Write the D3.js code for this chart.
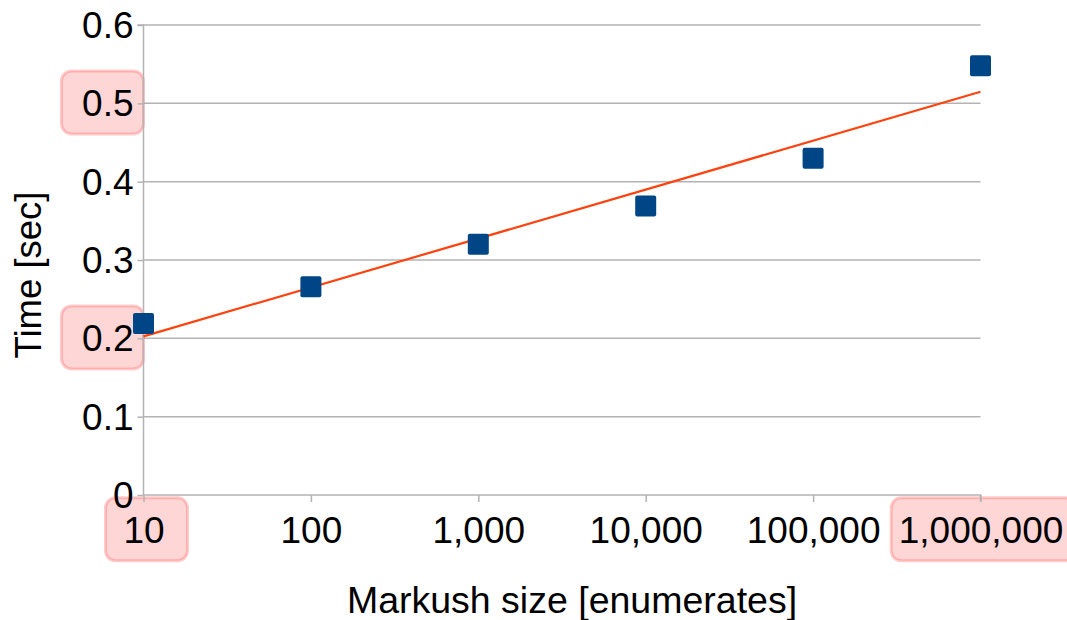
<!DOCTYPE html>
<html lang="en">
<head>
  <meta charset="UTF-8">
  <title>Markush size vs Time</title>
  <script src="https://d3js.org/d3.v7.min.js"></script>
<style>
  body, html {
    margin: 0;
    padding: 0;
    background: #fff;
    font-family: 'Liberation Sans', Arial, sans-serif;
  }
  svg { display: block; }
  .grid line { stroke: #b3b3b3; stroke-width: 1.5; }
  .axis path, .axis line { stroke: #b3b3b3; stroke-width: 1.5; }
  .axis text { font-size: 37px; fill: #000; font-family: 'Liberation Sans', Arial, sans-serif; }
  .title { font-size: 37.5px; fill: #000; }
  .hl { fill: rgba(255, 0, 0, 0.16); stroke: rgba(255, 50, 50, 0.25); stroke-width: 3; }
</style>
</head>
<body>
  <svg width="1067" height="620"></svg>

  <script>
    // data
    const sizes = [10, 100, 1000, 10000, 100000, 1000000];
    const times = [0.219, 0.266, 0.320, 0.369, 0.430, 0.548];
    const yTicks = [0, 0.1, 0.2, 0.3, 0.4, 0.5, 0.6];
    const xTickLabels = ["10", "100", "1,000", "10,000", "100,000", "1,000,000"];
    // tick labels that carry a pink highlight
    const highlightY = [0.5, 0.2];
    const highlightX = [10, 1000000];

    const margin = {top: 25, right: 86.5, bottom: 125, left: 143.5},
          width  = 1067 - margin.left - margin.right,
          height = 620 - margin.top - margin.bottom;

    const svg = d3.select("svg");
    const g = svg.append("g")
                 .attr("transform", `translate(${margin.left},${margin.top})`);

    const x = d3.scaleLog().domain([10, 1000000]).range([0, width]);
    const y = d3.scaleLinear().domain([0, 0.6]).range([height, 0]);

    // horizontal grid
    g.append("g")
     .attr("class", "grid")
     .selectAll("line")
     .data(yTicks.filter(d => d > 0))
     .enter().append("line")
       .attr("x1", 0).attr("x2", width)
       .attr("y1", d => y(d)).attr("y2", d => y(d));

    const hlLayer = g.append("g");

    const yAxis = g.append("g")
      .attr("class", "axis")
      .call(d3.axisLeft(y).tickValues(yTicks).tickSize(6).tickPadding(4)
              .tickFormat(d => d === 0 ? "0" : d3.format(".1f")(d)));
    yAxis.select(".domain").attr("d", `M-6,0H0V${height}`);
    yAxis.selectAll(".tick text").attr("dy", "0.34em");

    const xAxis = g.append("g")
      .attr("class", "axis")
      .attr("transform", `translate(0,${height})`)
      .call(d3.axisBottom(x).tickValues(sizes).tickSize(7).tickPadding(12)
              .tickFormat((d, i) => xTickLabels[i]));
    xAxis.select(".domain").attr("d", `M0,0H${width}V7`);
    xAxis.selectAll(".tick text").attr("dy", "0.78em");

    // pink highlight boxes behind chosen tick labels
    function boxFor(textNode, tickTransform, anchor) {
      const b = textNode.getBBox();
      const w = Math.max(b.width + 20, 82);
      let bx;
      if (anchor === "end") bx = b.x + b.width + 10 - w;
      else bx = b.x + b.width / 2 - w / 2 + 3;
      return {x: bx + tickTransform[0], y: b.y - 12 + tickTransform[1], w: w, h: b.height + 22};
    }
    yAxis.selectAll(".tick").filter(d => highlightY.includes(d)).each(function(d) {
      const bb = boxFor(d3.select(this).select("text").node(), [0, y(d)], "end");
      hlLayer.append("rect").attr("class", "hl").attr("rx", 10)
        .attr("x", bb.x).attr("y", bb.y).attr("width", bb.w).attr("height", bb.h);
    });
    xAxis.selectAll(".tick").filter(d => highlightX.includes(d)).each(function(d) {
      const bb = boxFor(d3.select(this).select("text").node(), [x(d), height], "middle");
      hlLayer.append("rect").attr("class", "hl").attr("rx", 10)
        .attr("x", bb.x).attr("y", bb.y).attr("width", bb.w).attr("height", bb.h);
    });

    // linear trend (least squares against log10 size)
    const lx = sizes.map(Math.log10);
    const mx = d3.mean(lx), my = d3.mean(times);
    const slope = d3.sum(lx, (v, i) => (v - mx) * (times[i] - my)) / d3.sum(lx, v => (v - mx) ** 2);
    const icept = my - slope * mx;
    const ends = [sizes[0], sizes[sizes.length - 1]];
    g.append("path")
     .datum(ends)
     .attr("fill", "none")
     .attr("stroke", "#ff420e")
     .attr("stroke-width", 2.2)
     .attr("d", d3.line().x(d => x(d)).y(d => y(icept + slope * Math.log10(d))));

    // markers
    const sq = 21;
    g.selectAll("rect.pt")
     .data(sizes)
     .enter().append("rect")
       .attr("class", "pt")
       .attr("x", d => x(d) - sq / 2)
       .attr("y", (d, i) => y(times[i]) - sq / 2)
       .attr("width", sq).attr("height", sq)
       .attr("rx", 2)
       .attr("fill", "#004586");

    // axis titles
    svg.append("text")
       .attr("class", "title")
       .attr("x", margin.left + width / 2 + 10)
       .attr("y", 613)
       .attr("text-anchor", "middle")
       .text("Markush size [enumerates]");

    svg.append("text")
       .attr("class", "title")
       .attr("transform", `translate(41,${margin.top + height / 2 + 15}) rotate(-90)`)
       .attr("text-anchor", "middle")
       .style("font-size", "36.5px")
       .text("Time [sec]");
  </script>
</body>
</html>
